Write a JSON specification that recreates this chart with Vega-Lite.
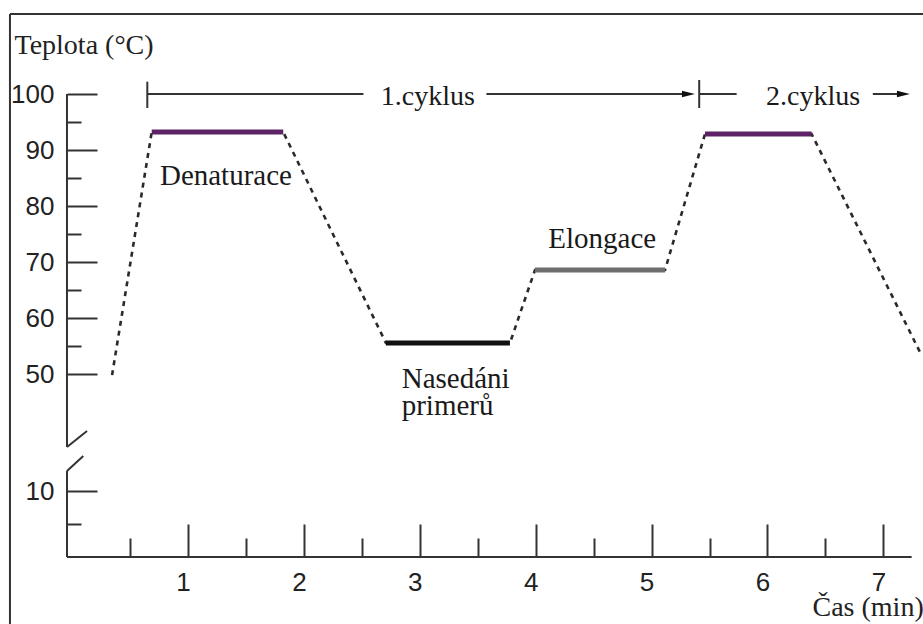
{
  "$schema": "https://vega.github.io/schema/vega-lite/v6.json",
  "width": 923,
  "height": 624,
  "padding": 0,
  "autosize": {"type": "none"},
  "background": "white",
  "config": {"view": {"stroke": null}},
  "datasets": {
    "lines": [
      {"part": "frame", "t": -0.536, "t2": -0.536, "temp": 114.29, "temp2": -11},
      {"part": "frame", "t": -0.536, "t2": 7.6, "temp": 114.29, "temp2": 114.29},
      {"part": "xaxis", "t": -0.044, "t2": 7.244, "temp": 0, "temp2": 0},
      {"part": "yupper", "t": -0.044, "t2": -0.044, "temp": 100, "temp2": 24.8},
      {"part": "ylower", "t": -0.044, "t2": -0.044, "temp": 13.03, "temp2": 0},
      {"part": "slash1", "t": -0.044, "t2": 0.129, "temp": 24.8, "temp2": 39.1},
      {"part": "slash2", "t": -0.044, "t2": 0.0966, "temp": 13.03, "temp2": 16.8},
      {"part": "cyc", "t": 0.649, "t2": 2.514, "temp": 100, "temp2": 100},
      {"part": "cyc", "t": 3.575, "t2": 5.315, "temp": 100, "temp2": 100},
      {"part": "cyc", "t": 5.411, "t2": 5.734, "temp": 100, "temp2": 100},
      {"part": "cyc", "t": 6.909, "t2": 7.17, "temp": 100, "temp2": 100},
      {"part": "cyctick", "t": 0.649, "t2": 0.649, "temp": 102.2, "temp2": 97.5},
      {"part": "cyctick", "t": 5.411, "t2": 5.411, "temp": 102.5, "temp2": 97.5}
    ],
    "profile": [
      {"t": 0.345, "temp": 49.8},
      {"t": 0.687, "temp": 93.2},
      {"t": 1.822, "temp": 93.2},
      {"t": 2.708, "temp": 55.54},
      {"t": 3.778, "temp": 55.54},
      {"t": 3.994, "temp": 68.57},
      {"t": 5.116, "temp": 68.57},
      {"t": 5.461, "temp": 92.86},
      {"t": 6.381, "temp": 92.86},
      {"t": 7.316, "temp": 53.9}
    ],
    "plateaus": [
      {"phase": "Denaturace", "t": 0.687, "t2": 1.822, "temp": 93.2},
      {"phase": "Nasedání", "t": 2.708, "t2": 3.778, "temp": 55.54},
      {"phase": "Elongace", "t": 3.994, "t2": 5.116, "temp": 68.57},
      {"phase": "Denaturace", "t": 5.461, "t2": 6.381, "temp": 92.86}
    ],
    "arrows": [
      {"t": 5.318, "temp": 100},
      {"t": 7.173, "temp": 100}
    ],
    "phaseLabels": [
      {"t": 0.758, "temp": 83.75, "text": "Denaturace"},
      {"t": 4.109, "temp": 72.45, "text": "Elongace"},
      {"t": 2.844, "temp": 47.45, "text": "Nasedáni"},
      {"t": 2.844, "temp": 42.68, "text": "primerů"}
    ],
    "cycleLabels": [
      {"t": 3.069, "temp": 98.04, "text": "1.cyklus"},
      {"t": 6.393, "temp": 98.04, "text": "2.cyklus"}
    ]
  },
  "resolve": {"axis": {"x": "independent", "y": "independent"}},
  "layer": [
    {
      "data": {"name": "lines"},
      "mark": {"type": "rule", "color": "#333333", "strokeWidth": 2},
      "encoding": {
        "x": {
          "field": "t", "type": "quantitative",
          "scale": {"domain": [-0.622, 7.342], "nice": false, "zero": false},
          "axis": {
            "orient": "bottom", "offset": -67, "values": [1, 2, 3, 4, 5, 6, 7],
            "ticks": false, "domain": false, "grid": false,
            "labelFont": "Liberation Sans, Arial, sans-serif", "labelFontSize": 26, "labelColor": "#222222",
            "labelPadding": 12, "labelOffset": -5, "labelFlush": false, "labelOverlap": false,
            "title": "Čas (min)", "titleX": 812, "titleY": 58, "titleAlign": "left",
            "titleBaseline": "alphabetic", "titleFont": "Liberation Serif, Times New Roman, serif", "titleFontSize": 28,
            "titleFontWeight": "normal", "titleColor": "#222222"
          }
        },
        "x2": {"field": "t2"},
        "y": {
          "field": "temp", "type": "quantitative",
          "scale": {"domain": [0, 15, 40, 100], "range": [557, 458, 430, 94], "nice": false, "zero": false},
          "axis": {
            "orient": "left", "offset": -67, "values": [10, 50, 60, 70, 80, 90, 100],
            "ticks": false, "domain": false, "grid": false,
            "labelFont": "Liberation Sans, Arial, sans-serif", "labelFontSize": 26, "labelColor": "#222222",
            "labelPadding": 13, "labelBaseline": "middle", "labelFlush": false, "labelOverlap": false,
            "title": "Teplota (°C)", "titleX": -53, "titleY": 53, "titleAngle": 0, "titleAlign": "left",
            "titleBaseline": "alphabetic", "titleFont": "Liberation Serif, Times New Roman, serif", "titleFontSize": 28,
            "titleFontWeight": "normal", "titleColor": "#222222"
          }
        },
        "y2": {"field": "temp2"}
      }
    },
    {
      "data": {"name": "profile"},
      "mark": {"type": "line", "color": "#2a2a2a", "strokeWidth": 2.6, "strokeDash": [5, 5]},
      "encoding": {
        "x": {
          "field": "t", "type": "quantitative",
          "scale": {"domain": [-0.622, 7.342], "nice": false, "zero": false},
          "axis": {
            "orient": "bottom", "offset": -67, "values": [1, 2, 3, 4, 5, 6, 7],
            "labels": false, "domain": false, "grid": false, "ticks": true,
            "tickSize": -33, "tickWidth": 2, "tickColor": "#333333", "title": null
          }
        },
        "y": {
          "field": "temp", "type": "quantitative",
          "scale": {"domain": [0, 15, 40, 100], "range": [557, 458, 430, 94], "nice": false, "zero": false},
          "axis": {
            "orient": "left", "offset": -67, "values": [10, 50, 60, 70, 80, 90, 100],
            "labels": false, "domain": false, "grid": false, "ticks": true,
            "tickSize": -30, "tickWidth": 2, "tickColor": "#333333", "title": null
          }
        }
      }
    },
    {
      "data": {"name": "plateaus"},
      "mark": {"type": "rule", "strokeWidth": 5},
      "encoding": {
        "x": {
          "field": "t", "type": "quantitative",
          "scale": {"domain": [-0.622, 7.342], "nice": false, "zero": false},
          "axis": {
            "orient": "bottom", "offset": -67, "values": [0.5, 1.5, 2.5, 3.5, 4.5, 5.5, 6.5],
            "labels": false, "domain": false, "grid": false, "ticks": true,
            "tickSize": -19, "tickWidth": 2, "tickColor": "#333333", "title": null
          }
        },
        "x2": {"field": "t2"},
        "y": {
          "field": "temp", "type": "quantitative",
          "scale": {"domain": [0, 15, 40, 100], "range": [557, 458, 430, 94], "nice": false, "zero": false},
          "axis": {
            "orient": "left", "offset": -67, "values": [5, 55, 65, 75, 85, 95],
            "labels": false, "domain": false, "grid": false, "ticks": true,
            "tickSize": -14, "tickWidth": 2, "tickColor": "#333333", "title": null
          }
        },
        "color": {
          "field": "phase", "type": "nominal", "legend": null,
          "scale": {"domain": ["Denaturace", "Nasedání", "Elongace"], "range": ["#5e2266", "#111111", "#6e6e6e"]}
        }
      }
    },
    {
      "data": {"name": "arrows"},
      "mark": {"type": "point", "shape": "M -1 -0.5 L 1 0 L -1 0.5 Z", "size": 169, "filled": true, "color": "#111111", "opacity": 1},
      "encoding": {
        "x": {"field": "t", "type": "quantitative", "scale": {"domain": [-0.622, 7.342], "nice": false, "zero": false}, "axis": null},
        "y": {"field": "temp", "type": "quantitative", "scale": {"domain": [0, 15, 40, 100], "range": [557, 458, 430, 94], "nice": false, "zero": false}, "axis": null}
      }
    },
    {
      "data": {"name": "phaseLabels"},
      "mark": {"type": "text", "font": "Liberation Serif, Times New Roman, serif", "fontSize": 29, "align": "left", "baseline": "alphabetic", "color": "#1a1a1a"},
      "encoding": {
        "x": {"field": "t", "type": "quantitative", "scale": {"domain": [-0.622, 7.342], "nice": false, "zero": false}, "axis": null},
        "y": {"field": "temp", "type": "quantitative", "scale": {"domain": [0, 15, 40, 100], "range": [557, 458, 430, 94], "nice": false, "zero": false}, "axis": null},
        "text": {"field": "text"}
      }
    },
    {
      "data": {"name": "cycleLabels"},
      "mark": {"type": "text", "font": "Liberation Serif, Times New Roman, serif", "fontSize": 28, "align": "center", "baseline": "alphabetic", "color": "#1a1a1a"},
      "encoding": {
        "x": {"field": "t", "type": "quantitative", "scale": {"domain": [-0.622, 7.342], "nice": false, "zero": false}, "axis": null},
        "y": {"field": "temp", "type": "quantitative", "scale": {"domain": [0, 15, 40, 100], "range": [557, 458, 430, 94], "nice": false, "zero": false}, "axis": null},
        "text": {"field": "text"}
      }
    }
  ]
}
